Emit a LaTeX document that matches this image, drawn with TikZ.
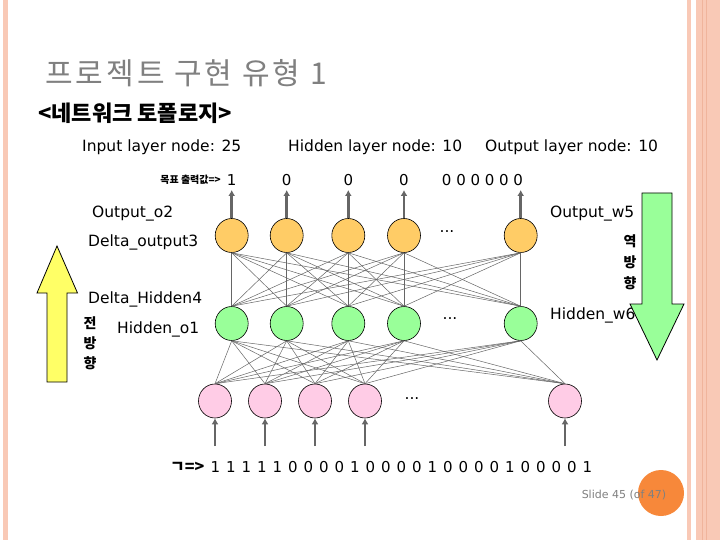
\documentclass[tikz,border=0pt]{standalone}
\usepackage{fontspec}
\setmainfont{DejaVu Sans}
\newfontfamily\kr{Noto Sans CJK KR}
\newfontfamily\krtitle[LetterSpace=10]{Noto Sans CJK KR}
\usetikzlibrary{arrows.meta,shapes.geometric}
\definecolor{bord}{HTML}{F9C9B6}
\definecolor{bordd}{HTML}{F0B49C}
\definecolor{orfill}{HTML}{FFCC66}
\definecolor{grfill}{HTML}{99FF99}
\definecolor{pkfill}{HTML}{FFCCE6}
\definecolor{yarrow}{HTML}{FFFF66}
\definecolor{slideor}{HTML}{F7883A}
\definecolor{sig}{HTML}{666666}
\tikzset{
  neuron/.style={ellipse,draw=black,line width=0.6pt,inner sep=0pt,minimum width=33pt,minimum height=34pt},
  outn/.style={neuron,fill=orfill},
  hidn/.style={neuron,fill=grfill},
  inn/.style={neuron,fill=pkfill},
  edge/.style={draw=sig,line width=0.5pt},
  sigarrow/.style={draw=sig,line width=2.5pt,-{Latex[length=6pt,width=7pt]}},
  lbl/.style={inner sep=0pt,font=\fontsize{15.5}{17}\selectfont},
  lbll/.style={lbl,anchor=west},
  krl/.style={inner sep=0pt,font=\kr\bfseries\fontsize{14}{16}\selectfont},
  dig/.style={inner sep=0pt,font=\fontsize{15}{17}\selectfont},
}
\begin{document}
\begin{tikzpicture}[x=1pt,y=-1pt]
\useasboundingbox (0,0) rectangle (720,540);
\fill[white] (0,0) rectangle (720,540);
% borders
\fill[bord] (3,0) rectangle (8,540);
\fill[bord] (687,0) rectangle (691,540);
\fill[bord] (696,0) rectangle (720,540);
\fill[bordd] (701.5,0) rectangle (703,540);
\fill[bordd] (705.5,0) rectangle (707,540);
% title
\node[anchor=west,inner sep=0pt,text=gray,font=\krtitle\fontsize{30}{32}\selectfont] (title) at (45,73) {프로젝트 구현 유형 1};
\node[anchor=west,inner sep=0pt,font=\kr\bfseries\fontsize{22}{24}\selectfont] (sub) at (38,113) {<네트워크 토폴로지>};
% headers
\node[lbll] (hin) at (82,147) {Input layer node: 25};
\node[lbll] (hhid) at (288,147) {Hidden layer node: 10};
\node[lbll] (hout) at (485,147) {Output layer node: 10};
% neurons
\foreach \i/\x in {1/231.7,2/286.7,3/348.3,4/404,5/520.7}{
  \node[outn] (o\i) at (\x,235.5) {};
  \node[hidn] (h\i) at (\x,323.5) {};
  \coordinate (ot\i) at (\x,190);
}
\foreach \i/\x in {1/215,2/265,3/315,4/365,5/565}{
  \node[inn] (i\i) at (\x,401) {};
  \coordinate (ib\i) at (\x,446);
}
% edges
\foreach \a in {1,...,5}{
  \foreach \b in {1,...,5}{
    \draw[edge] (o\a.south) -- (h\b.north);
    \draw[edge] (h\a.south) -- (i\b.north);
  }
}
% signal arrows
\foreach \i in {1,...,5}{
  \draw[sigarrow] (o\i) -- (ot\i);
  \draw[sigarrow] (ib\i) -- (i\i);
}
% dots
\node[lbl] (d1) at (447,232) {...};
\node[lbl] (d2) at (450,319) {...};
\node[lbl] (d3) at (412,399) {...};
% target values
\node[anchor=east,inner sep=0pt,font=\kr\bfseries\fontsize{10}{12}\selectfont] (tgt) at (221,180) {목표 출력값=>};
\node[dig] (t1) at (231.7,180) {1};
\node[dig] (t2) at (286.7,180) {0};
\node[dig] (t3) at (348.3,180) {0};
\node[dig] (t4) at (404,180) {0};
\node[dig] (t5) at (482.5,180) {0 0 0 0 0 0};
% side labels
\node[lbll] (lo2) at (92,214) {Output\_o2};
\node[lbll] (ld3) at (88,242) {Delta\_output3};
\node[lbll] (ld4) at (88,299) {Delta\_Hidden4};
\node[lbll] (lh1) at (117,329) {Hidden\_o1};
\node[krl] (f1) at (90,323) {전};
\node[krl] (f2) at (90,343) {방};
\node[krl] (f3) at (90,363) {향};
\node[lbll] (lw5) at (550,214) {Output\_w5};
\node[lbll] (lw6) at (550,315) {Hidden\_w6};
\node[krl] (b1) at (630,241) {역};
\node[krl] (b2) at (630,262) {방};
\node[krl] (b3) at (630,283) {향};
% big arrows
\draw[fill=yarrow,line width=0.8pt] (47,382) -- (47,293) -- (37,293) -- (57,246) -- (77.5,293) -- (67,293) -- (67,382) -- cycle;
\draw[fill=grfill,line width=0.8pt] (642,193) -- (672,193) -- (672,304) -- (684,304) -- (657,360) -- (630,304) -- (642,304) -- cycle;
% input string
\node[anchor=west,inner sep=0pt,font=\kr\bfseries\fontsize{16}{18}\selectfont] (inl) at (170,467) {ㄱ=>};
\foreach \v [count=\k from 0] in {1,1,1,1,1,0,0,0,0,1,0,0,0,0,1,0,0,0,0,1,0,0,0,0,1}{
  \node[dig] (n\k) at (215.5+15.5*\k,467) {\v};
}
% slide number
\fill[slideor] (661,493) circle (23);
\node[inner sep=0pt,text=gray,font=\fontsize{11}{13}\selectfont] (slide) at (624,495) {Slide 45 (of 47)};
\end{tikzpicture}
\end{document}
